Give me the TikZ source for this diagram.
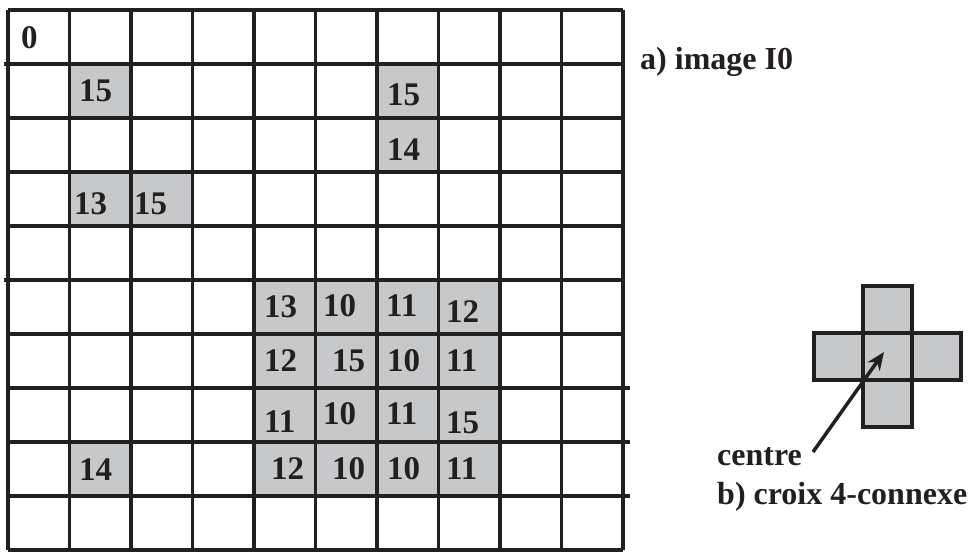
\documentclass[tikz,border=0pt]{standalone}
\usepackage{fontspec}
\setmainfont{Liberation Serif}
\usetikzlibrary{arrows.meta}
\definecolor{cellgray}{RGB}{199,200,202}
\definecolor{ink}{RGB}{35,31,32}
\begin{document}
\begin{tikzpicture}[x=1pt,y=-1pt,
  gridline/.style={draw=ink,line width=3.8pt},
  num/.style={anchor=west,inner sep=0pt,font=\fontsize{33}{33}\selectfont\bfseries,text=ink},
  lbl/.style={anchor=base west,inner sep=0pt,font=\fontsize{32}{32}\selectfont\bfseries,text=ink},
  crosscell/.style={draw=ink,fill=cellgray,line width=3.8pt,minimum width=49pt,minimum height=47pt,inner sep=0pt,outer sep=0pt}]
\useasboundingbox (0,0) rectangle (969,553);
% gray cells
\foreach \c/\r in {1/1,6/1,6/2,1/3,2/3,1/8}{
  \fill[cellgray] ({8+61.5*\c},{10+54*\r}) rectangle ({8+61.5*(\c+1)},{10+54*(\r+1)});
}
\fill[cellgray] ({8+61.5*4},{10+54*5}) rectangle ({8+61.5*8},{10+54*9});
% grid
\foreach \i in {0,...,10}{
  \draw[gridline] ({8+61.5*\i},10) -- ({8+61.5*\i},550);
  \draw[gridline] (8,{10+54*\i}) -- (623,{10+54*\i});
}
\draw[gridline] (4,64) -- (8,64);
\draw[gridline] (4,280) -- (8,280);
\foreach \j in {7,8,9}{\draw[gridline] (623,{10+54*\j}) -- (630,{10+54*\j});}
% numbers
\node[num] (n00) at (21,38) {0};
\node[num] (n11) at (79,91) {15};
\node[num] (n61) at (387,95) {15};
\node[num] (n62) at (387,150) {14};
\node[num] (n13) at (74,204) {13};
\node[num] (n23) at (134,204) {15};
\node[num] (n18) at (79,470) {14};
\node[num] (b45) at (264,307) {13};
\node[num] (b55) at (323,306) {10};
\node[num] (b65) at (386,306) {11};
\node[num] (b75) at (446,312) {12};
\node[num] (b46) at (264,361) {12};
\node[num] (b56) at (332,361) {15};
\node[num] (b66) at (387,361) {10};
\node[num] (b76) at (446,361) {11};
\node[num] (b47) at (264,422) {11};
\node[num] (b57) at (323,414) {10};
\node[num] (b67) at (386,414) {11};
\node[num] (b77) at (446,423) {15};
\node[num] (b48) at (271,469) {12};
\node[num] (b58) at (332,469) {10};
\node[num] (b68) at (387,469) {10};
\node[num] (b78) at (446,469) {11};
% labels
\node[lbl] (la) at (640,70) {a) image I0};
\node[lbl] (lc) at (717,465) {centre};
\node[lbl] (lb) at (717,504) {b) croix 4-connexe};
% cross
\node[crosscell] (cc) at (887.5,356.5) {};
\node[crosscell,anchor=south] (ct) at (cc.north) {};
\node[crosscell,anchor=north] (cb) at (cc.south) {};
\node[crosscell,anchor=east] (cl) at (cc.west) {};
\node[crosscell,anchor=west] (cr) at (cc.east) {};
\coordinate (astart) at (813,452);
\coordinate (aend) at (884,352);
\draw[ink,line width=3.5pt,-{Stealth[length=18pt,width=15pt]}] (astart) -- (aend);
\end{tikzpicture}
\end{document}
